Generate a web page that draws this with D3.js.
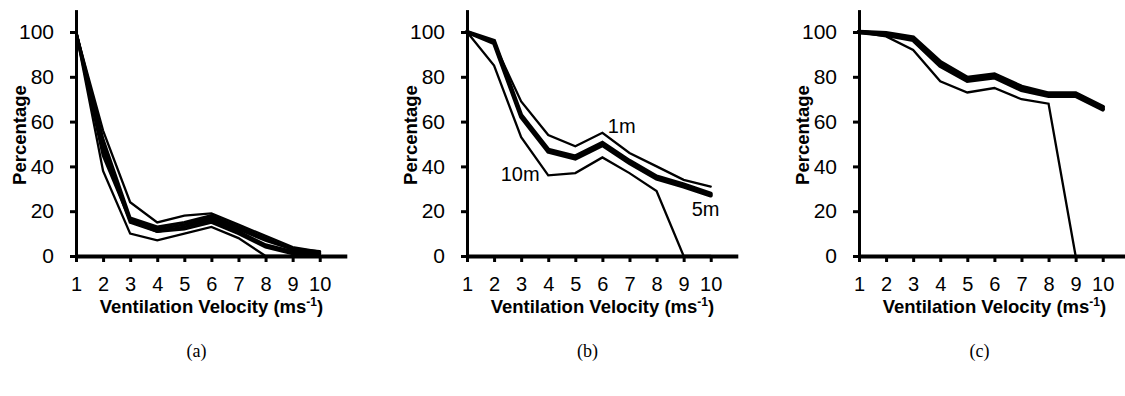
<!DOCTYPE html>
<html>
<head>
<meta charset="utf-8">
<script src="https://cdn.jsdelivr.net/npm/d3@7"></script>
<style>
  body { margin: 0; background: #fff; }
  svg text { font-family: "Liberation Sans", Arial, sans-serif; fill: #000; }
</style>
</head>
<body>
<div id="chart"></div>
<script>
// x categories and y ticks
const velocities = [1, 2, 3, 4, 5, 6, 7, 8, 9, 10];
const yTicks = [0, 20, 40, 60, 80, 100];
const panelLabels = ['(a)', '(b)', '(c)'];

// panel (a): percentages at several heights
const aTop    = [100, 56, 24, 15, 18, 19, 14, 9, 4, 2];
const aMid1   = [100, 52, 17, 13, 15, 18, 13, 8, 3, 2];
const aMid2   = [100, 50, 16, 12, 14, 17, 12, 7, 3, 1.5];
const aMid3   = [100, 48, 15, 11, 13, 16, 11, 5, 2, 1];
const aMid4   = [100, 45, 16, 11, 12, 15, 10, 4, 1, 1];
const aBottom = [100, 38, 10, 7, 10, 13, 8, 0, 0, 0];

// panel (b)
const b1m  = [100, 95, 69, 54, 49, 55, 46, 40, 34, 31];
const b5mA = [100, 96, 63, 47.5, 44.5, 50.5, 42.5, 35.5, 32, 27.8];
const b5mB = [100, 95, 62, 46.5, 43.5, 49.5, 41.5, 34.5, 31, 27];
const b10m = [100, 85, 53, 36, 37, 44, 37, 29, 0, 0];

// panel (c)
const cTopA = [100, 99.5, 97.5, 86.5, 79.5, 81, 75.5, 72.5, 72.5, 66.5];
const cTopB = [100, 98.8, 96.5, 85, 78.3, 79.8, 74.2, 71.5, 71.5, 65.5];
const cLow  = [100, 98, 92, 78, 73, 75, 70, 68, 0];

// line labels in panel (b): text, x value, y value, anchor
const bLabels = [
  { text: '1m',  vx: 6.2,  vy: 55,   anchor: 'start' },
  { text: '10m', vx: 3.68, vy: 33.5, anchor: 'end' },
  { text: '5m',  vx: 9.3,  vy: 17.9, anchor: 'start' }
];

const panels = [
  { left: 76,  series: [[aTop, 2.3], [aMid1, 3], [aMid2, 3], [aMid3, 3], [aMid4, 3], [aBottom, 2.3]], labels: [] },
  { left: 467, series: [[b1m, 2.3], [b5mA, 4], [b5mB, 4], [b10m, 2.3]], labels: bLabels },
  { left: 859, series: [[cTopA, 4.5], [cTopB, 4.5], [cLow, 2.3]], labels: [] }
];

const width = 1125, height = 396;
const unit = 27.08;          // px per velocity step
const yTop = 9.6, yBottom = 256;

const svg = d3.select('#chart').append('svg')
  .attr('width', width)
  .attr('height', height);

panels.forEach((p, i) => {
  const x = d3.scaleLinear().domain([1, 11]).range([p.left, p.left + unit * 10]);
  const y = d3.scaleLinear().domain([0, 110]).range([yBottom, yTop]);
  const g = svg.append('g');

  // data lines
  const line = d3.line()
    .x((d, k) => x(velocities[k]))
    .y(d => y(d));

  p.series.forEach(([vals, w]) => {
    g.append('path')
      .datum(vals)
      .attr('d', line)
      .attr('fill', 'none')
      .attr('stroke', '#000')
      .attr('stroke-width', w)
      .attr('stroke-linecap', 'round');
  });

  // y axis
  const yAxis = g.append('g')
    .attr('transform', `translate(${x(1)},0)`)
    .call(d3.axisLeft(y).tickValues(yTicks).tickSize(6).tickSizeOuter(0).tickPadding(16));
  yAxis.select('.domain').attr('stroke-width', 3);
  yAxis.selectAll('.tick line').attr('stroke-width', 3);
  yAxis.selectAll('.tick text').style('font-size', '21px');

  // x axis
  const xAxis = g.append('g')
    .attr('transform', `translate(0,${yBottom})`)
    .call(d3.axisBottom(x).tickValues(velocities).tickSize(6).tickSizeOuter(0).tickPadding(15));
  xAxis.select('.domain').attr('stroke-width', 4);
  xAxis.selectAll('.tick line').attr('stroke-width', 3);
  xAxis.selectAll('.tick text').style('font-size', '20px');

  // axis titles
  const xt = g.append('text')
    .attr('x', x(6))
    .attr('y', 313)
    .attr('text-anchor', 'middle')
    .style('font-size', '18.5px')
    .style('font-weight', 'bold');
  xt.append('tspan').text('Ventilation Velocity (ms');
  xt.append('tspan').attr('dy', -7).style('font-size', '12px').text('-1');
  xt.append('tspan').attr('dy', 7).text(')');

  g.append('text')
    .attr('transform', `translate(${x(1) - 50},${y(54)}) rotate(-90)`)
    .attr('text-anchor', 'middle')
    .style('font-size', '18.5px')
    .style('font-weight', 'bold')
    .text('Percentage');

  // line labels
  p.labels.forEach(l => {
    g.append('text')
      .attr('x', x(l.vx))
      .attr('y', y(l.vy))
      .attr('text-anchor', l.anchor)
      .style('font-size', '20px')
      .text(l.text);
  });

  // panel caption
  g.append('text')
    .attr('x', x(6) - 15)
    .attr('y', 357)
    .attr('text-anchor', 'middle')
    .style('font-family', '"Liberation Serif", "Times New Roman", serif')
    .style('font-size', '18px')
    .text(panelLabels[i]);
});
</script>
</body>
</html>
